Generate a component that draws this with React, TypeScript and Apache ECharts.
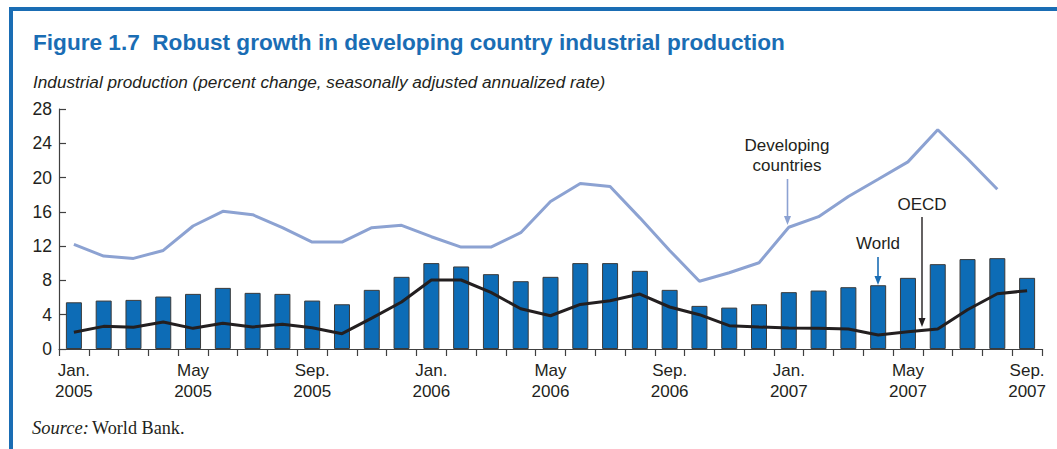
import React, { useEffect, useRef } from "react";
import * as echarts from "echarts";

const categories = [
  "Jan. 2005", "Feb. 2005", "Mar. 2005", "Apr. 2005", "May 2005", "Jun. 2005",
  "Jul. 2005", "Aug. 2005", "Sep. 2005", "Oct. 2005", "Nov. 2005", "Dec. 2005",
  "Jan. 2006", "Feb. 2006", "Mar. 2006", "Apr. 2006", "May 2006", "Jun. 2006",
  "Jul. 2006", "Aug. 2006", "Sep. 2006", "Oct. 2006", "Nov. 2006", "Dec. 2006",
  "Jan. 2007", "Feb. 2007", "Mar. 2007", "Apr. 2007", "May 2007", "Jun. 2007",
  "Jul. 2007", "Aug. 2007", "Sep. 2007",
];

const world = [
  5.45, 5.65, 5.73, 6.12, 6.43, 7.13, 6.55, 6.43, 5.65, 5.22, 6.9, 8.42,
  10.02, 9.63, 8.73, 7.91, 8.42, 10.02, 10.02, 9.12, 6.9, 5.03, 4.83, 5.22,
  6.63, 6.82, 7.21, 7.44, 8.3, 9.9, 10.49, 10.6, 8.3,
];

const oecd = [
  1.95, 2.64, 2.53, 3.15, 2.41, 3.0, 2.57, 2.88, 2.49, 1.79, 3.6, 5.48,
  8.05, 8.05, 6.6, 4.7, 3.88, 5.2, 5.63, 6.41, 4.9, 4.0, 2.72, 2.57,
  2.45, 2.41, 2.33, 1.63, 2.02, 2.33, 4.58, 6.45, 6.8,
];

const developing = [
  12.2, 10.84, 10.57, 11.5, 14.35, 16.06, 15.67, 14.15, 12.48, 12.48, 14.15, 14.43,
  13.1, 11.89, 11.89, 13.57, 17.2, 19.3, 18.95, 15.3, 11.5, 7.9, 8.9, 10.06,
  14.2, 15.44, 17.8, 19.8, 21.83, 25.58, 22.2, 18.64, null,
];

const yMin = 0;
const yMax = 28;
const yInterval = 4;

const TEXT = "#231f20";
const BLUE = "#1a6db4";
const BAR = "#0d6cb6";
const DEV = "#8ca2d2";
const FONT = "'Liberation Sans', Arial, Helvetica, sans-serif";
const SERIF = "'Liberation Serif', 'Times New Roman', serif";

function arrow(x: number, y1: number, y2: number, color: string, w: number) {
  return [
    {
      type: "line",
      shape: { x1: x, y1: y1, x2: x, y2: y2 - 6 },
      style: { stroke: color, lineWidth: w },
    },
    {
      type: "polygon",
      shape: { points: [[x - 3.5, y2 - 9], [x + 3.5, y2 - 9], [x, y2]] },
      style: { fill: color },
    },
  ];
}

function label(text: string, x: number, y: number) {
  return {
    type: "text",
    x,
    y,
    style: {
      text,
      fill: TEXT,
      font: `17px ${FONT}`,
      textAlign: "center",
      textVerticalAlign: "middle",
    },
  };
}

export default function App() {
  const ref = useRef<HTMLDivElement>(null);

  useEffect(() => {
    if (!ref.current) return;
    const chart = echarts.init(ref.current, undefined, { renderer: "svg" });
    chart.setOption({
      animation: false,
      backgroundColor: "#ffffff",
      grid: { left: 59, right: 15, top: 109, bottom: 100 },
      xAxis: {
        type: "category",
        data: categories,
        boundaryGap: true,
        axisLine: { show: true, lineStyle: { color: "#404040", width: 1.2 } },
        axisTick: { show: true, interval: 0, length: 7, lineStyle: { color: "#404040", width: 1.2 } },
        axisLabel: {
          interval: 3,
          margin: 11,
          color: TEXT,
          fontSize: 17,
          lineHeight: 21,
          fontFamily: FONT,
          formatter: (v: string) => v.replace(" ", "\n"),
        },
        splitLine: { show: false },
      },
      yAxis: {
        type: "value",
        min: yMin,
        max: yMax,
        interval: yInterval,
        axisLine: { show: true, lineStyle: { color: "#404040", width: 1.2 } },
        axisTick: { show: true, inside: true, length: 7, lineStyle: { color: "#404040", width: 1.2 } },
        axisLabel: { margin: 7, color: TEXT, fontSize: 17.5, fontFamily: FONT },
        splitLine: { show: false },
      },
      series: [
        {
          name: "World",
          type: "bar",
          data: world,
          barWidth: 16,
          itemStyle: { color: BAR, borderColor: "#3a3a3a", borderWidth: 1 },
          z: 2,
        },
        {
          name: "OECD",
          type: "line",
          data: oecd,
          symbol: "none",
          lineStyle: { color: TEXT, width: 3 },
          z: 3,
        },
        {
          name: "Developing countries",
          type: "line",
          data: developing,
          symbol: "none",
          connectNulls: false,
          lineStyle: { color: DEV, width: 3 },
          z: 4,
        },
      ],
      graphic: [
        { type: "rect", shape: { x: 9, y: 7, width: 1048, height: 4 }, style: { fill: BLUE } },
        { type: "rect", shape: { x: 9, y: 7, width: 4, height: 442 }, style: { fill: BLUE } },
        {
          type: "text",
          x: 33,
          y: 42,
          style: {
            text: "Figure 1.7  Robust growth in developing country industrial production",
            fill: BLUE,
            font: `bold 22.6px ${FONT}`,
            textVerticalAlign: "middle",
          },
        },
        {
          type: "text",
          x: 33,
          y: 82,
          style: {
            text: "Industrial production (percent change, seasonally adjusted annualized rate)",
            fill: TEXT,
            font: `italic 17.2px ${FONT}`,
            textVerticalAlign: "middle",
          },
        },
        {
          type: "text",
          x: 32,
          y: 428,
          style: {
            text: "Source:",
            fill: TEXT,
            font: `italic 18.5px ${SERIF}`,
            textVerticalAlign: "middle",
          },
        },
        {
          type: "text",
          x: 92,
          y: 428,
          style: {
            text: "World Bank.",
            fill: TEXT,
            font: `18.2px ${SERIF}`,
            textVerticalAlign: "middle",
          },
        },
        label("Developing", 787, 145),
        label("countries", 787, 165),
        ...arrow(787.5, 179, 225, DEV, 1.6),
        label("World", 878, 243),
        ...arrow(878, 257, 285, BLUE, 1.6),
        label("OECD", 922, 204),
        ...arrow(922, 217, 327, TEXT, 1.4),
      ],
    });
    return () => chart.dispose();
  }, []);

  return <div ref={ref} style={{ width: 1057, height: 449, position: "absolute", left: 0, top: 0 }} />;
}
